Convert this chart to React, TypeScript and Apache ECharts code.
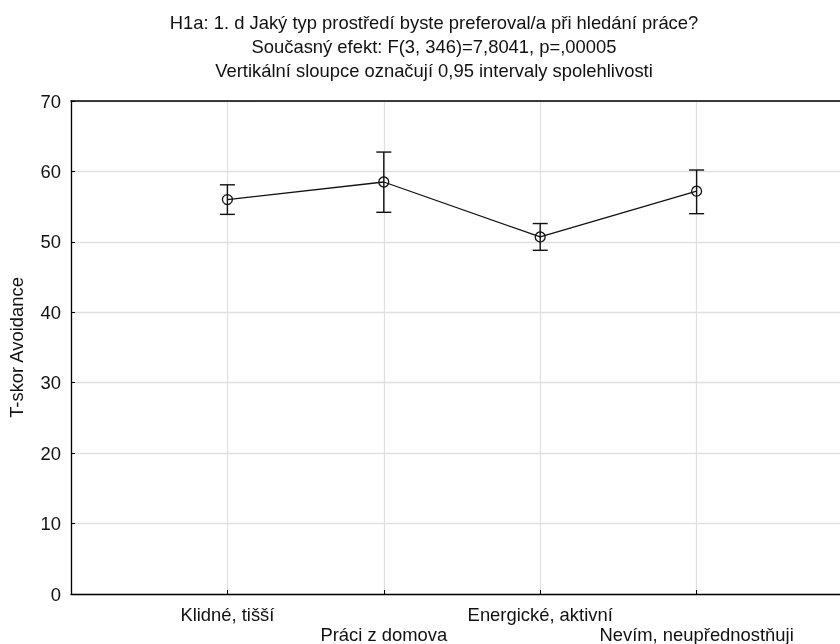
import React, { useEffect, useRef } from "react";
import * as echarts from "echarts";

const titleLines = [
  "H1a: 1. d Jaký typ prostředí byste preferoval/a při hledání práce?",
  "Současný efekt: F(3, 346)=7,8041, p=,00005",
  "Vertikální sloupce označují 0,95 intervaly spolehlivosti",
];
const categories = ["Klidné, tišší", "Práci z domova", "Energické, aktivní", "Nevím, neupřednostňuji"];
const means = [56.0, 58.5, 50.7, 57.2];
const lower = [53.9, 54.2, 48.8, 54.0];
const upper = [58.1, 62.75, 52.6, 60.2];
const yAxisName = "T-skor Avoidance";

const FONT = "'Liberation Sans', Arial, sans-serif";
const TXT = "#111";
const FS = 18.4;

export default function App() {
  const ref = useRef<HTMLDivElement>(null);
  useEffect(() => {
    const chart = echarts.init(ref.current!, null, { renderer: "svg" });
    const pos = categories.map((_, i) => i + 1);
    chart.setOption({
      animation: false,
      textStyle: { fontFamily: FONT },
      title: {
        text: titleLines.join("\n"),
        left: 434,
        top: 10,
        textAlign: "center",
        padding: 0,
        textStyle: { fontFamily: FONT, fontSize: FS, fontWeight: "normal", color: TXT, lineHeight: 24 },
      },
      grid: { left: 71, top: 101, width: 782, bottom: 50, containLabel: false, outerBoundsMode: "none" },
      xAxis: [
        {
          type: "value",
          min: 0,
          max: 5,
          interval: 1,
          axisLine: { show: true, lineStyle: { color: "#000", width: 1.3 } },
          axisTick: { show: true, inside: true, length: 4, lineStyle: { color: "#000" } },
          splitLine: { show: true, lineStyle: { color: "#e0e0e0", width: 1.3 } },
          axisLabel: {
            margin: 10,
            fontFamily: FONT,
            fontSize: FS,
            color: TXT,
            lineHeight: 20,
            formatter: (v: number) => {
              const i = Math.round(v) - 1;
              if (i < 0 || i >= categories.length) return "";
              return i % 2 === 1 ? "\n" + categories[i] : categories[i];
            },
          },
        },
        {
          type: "value",
          position: "top",
          min: 0,
          max: 5,
          axisLine: { show: true, lineStyle: { color: "#000", width: 1.5 } },
          axisTick: { show: false },
          axisLabel: { show: false },
          splitLine: { show: false },
        },
      ],
      yAxis: {
        type: "value",
        min: 0,
        max: 70,
        interval: 10,
        name: yAxisName,
        nameLocation: "middle",
        nameGap: 46,
        nameTextStyle: { fontFamily: FONT, fontSize: FS, color: TXT },
        axisLine: { show: true, lineStyle: { color: "#000", width: 1.3 } },
        axisTick: { show: true, inside: true, length: 4, lineStyle: { color: "#000" } },
        splitLine: { show: true, lineStyle: { color: "#e0e0e0", width: 1.3 } },
        axisLabel: { margin: 10, fontFamily: FONT, fontSize: FS, color: TXT },
      },
      series: [
        {
          type: "custom",
          xAxisIndex: 0,
          data: pos.map((p, i) => [p, lower[i], upper[i]]),
          renderItem: (params: any, api: any) => {
            const x = api.value(0);
            const lo = api.coord([x, api.value(1)]);
            const hi = api.coord([x, api.value(2)]);
            const hw = 7.5;
            const style = { stroke: "#111", lineWidth: 1.4 };
            return {
              type: "group",
              children: [
                { type: "line", shape: { x1: lo[0], y1: lo[1], x2: hi[0], y2: hi[1] }, style },
                { type: "line", shape: { x1: lo[0] - hw, y1: lo[1], x2: lo[0] + hw, y2: lo[1] }, style },
                { type: "line", shape: { x1: hi[0] - hw, y1: hi[1], x2: hi[0] + hw, y2: hi[1] }, style },
              ],
            };
          },
          z: 3,
        },
        {
          type: "line",
          xAxisIndex: 0,
          data: pos.map((p, i) => [p, means[i]]),
          symbol: "circle",
          symbolSize: 10,
          lineStyle: { color: "#111", width: 1.3 },
          itemStyle: { color: "rgba(0,0,0,0)", borderColor: "#111", borderWidth: 1.3 },
          z: 4,
        },
      ],
    });
    return () => chart.dispose();
  }, []);
  return <div ref={ref} style={{ position: "fixed", left: 0, top: 0, width: 840, height: 644 }} />;
}
